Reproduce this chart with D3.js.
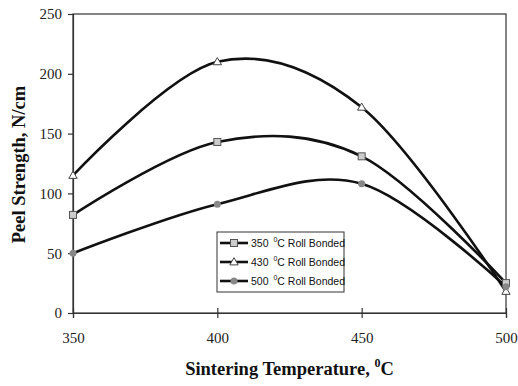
<!DOCTYPE html>
<html>
<head>
<meta charset="utf-8">
<script src="https://cdn.jsdelivr.net/npm/d3@7"></script>
<style>
body { margin: 0; background: #fff; }
svg { display: block; }
</style>
</head>
<body>
<script>
// chart data
const temps = [350, 400, 450, 500];
const bonded350 = [82, 143, 131, 25];
const bonded430 = [115, 210, 172, 18];
const bonded500 = [50, 91, 108, 22];
const seriesLabels = ['350', '430', '500'];
const xTicks = [350, 400, 450, 500];
const yTicks = [0, 50, 100, 150, 200, 250];

const width = 518, height = 386;
const margins = { top: 14, right: 12, bottom: 73, left: 73 };

const x = d3.scaleLinear().domain([350, 500]).range([margins.left, width - margins.right]);
const y = d3.scaleLinear().domain([0, 250]).range([height - margins.bottom, margins.top]);

const svg = d3.select('body').append('svg').attr('width', width).attr('height', height);

// frame
svg.append('rect')
    .attr('x', x(350)).attr('y', y(250))
    .attr('width', x(500) - x(350)).attr('height', y(0) - y(250))
    .attr('fill', 'none').attr('stroke', '#333').attr('stroke-width', 1.2);

const xAxis = svg.append('g')
    .attr('transform', `translate(0,${y(0)})`)
    .call(d3.axisBottom(x).tickValues(xTicks).tickSize(5).tickPadding(14));
xAxis.selectAll('.tick line').attr('y1', -5).attr('y2', 5);

const yAxis = svg.append('g')
    .attr('transform', `translate(${x(350)},0)`)
    .call(d3.axisLeft(y).tickValues(yTicks).tickSize(5).tickPadding(6));

[xAxis, yAxis].forEach((a) => {
    a.select('.domain').attr('stroke', '#333').attr('stroke-width', 1.2);
    a.selectAll('.tick line').attr('stroke', '#333').attr('stroke-width', 1.2);
    a.selectAll('.tick text')
        .attr('font-family', '"Liberation Serif", "Times New Roman", serif')
        .attr('font-size', 15).attr('fill', '#222');
});

// axis titles
const titleFont = '"Liberation Serif", "Times New Roman", serif';
const xt = svg.append('text')
    .attr('x', (x(350) + x(500)) / 2).attr('y', 375)
    .attr('text-anchor', 'middle')
    .attr('font-family', titleFont).attr('font-weight', 'bold').attr('font-size', 18.5)
    .attr('fill', '#111');
xt.append('tspan').text('Sintering Temperature, ');
xt.append('tspan').text('0').attr('font-size', 12).attr('dy', -8);
xt.append('tspan').text('C').attr('dy', 8);

svg.append('text')
    .attr('transform', `translate(25,${(y(0) + y(250)) / 2 + 1}) rotate(-90)`)
    .attr('text-anchor', 'middle')
    .attr('font-family', titleFont).attr('font-weight', 'bold').attr('font-size', 18.5)
    .attr('fill', '#111')
    .text('Peel Strength, N/cm');

// series
const series = [
    { label: seriesLabels[0], values: bonded350, marker: 'square' },
    { label: seriesLabels[1], values: bonded430, marker: 'triangle' },
    { label: seriesLabels[2], values: bonded500, marker: 'circle' }
];

const line = d3.line()
    .x((d, i) => x(temps[i]))
    .y((d) => y(d))
    .curve(d3.curveCardinal.tension(0));

function drawMarker(g, type, cx, cy) {
    if (type === 'square') {
        g.append('rect').attr('x', cx - 3.5).attr('y', cy - 3.5).attr('width', 7).attr('height', 7)
            .attr('fill', '#ccc').attr('stroke', '#555').attr('stroke-width', 1);
    } else if (type === 'triangle') {
        g.append('path')
            .attr('d', d3.symbol(d3.symbolTriangle, 30)())
            .attr('transform', `translate(${cx},${cy + 0.5})`)
            .attr('fill', '#fff').attr('stroke', '#444').attr('stroke-width', 1);
    } else {
        g.append('circle').attr('cx', cx).attr('cy', cy).attr('r', 3.5)
            .attr('fill', '#888').attr('stroke', 'none');
    }
}

series.forEach((s) => {
    svg.append('path')
        .datum(s.values)
        .attr('d', line)
        .attr('fill', 'none')
        .attr('stroke', '#111')
        .attr('stroke-width', 2.6);
});
series.forEach((s) => {
    const g = svg.append('g');
    s.values.forEach((v, i) => drawMarker(g, s.marker, x(temps[i]), y(v)));
});

// legend
const legend = svg.append('g').attr('transform', 'translate(217,232)');
legend.append('rect')
    .attr('width', 127).attr('height', 60)
    .attr('fill', '#fff').attr('stroke', '#333').attr('stroke-width', 1);

series.forEach((s, i) => {
    const ly = 11 + i * 19;
    const le = legend.append('g');
    le.append('line').attr('x1', 3).attr('x2', 31).attr('y1', ly).attr('y2', ly)
        .attr('stroke', '#111').attr('stroke-width', 2.6);
    drawMarker(le, s.marker, 17, ly);
    const t = le.append('text')
        .attr('x', 34).attr('y', ly + 4)
        .attr('font-family', '"Liberation Sans", Arial, sans-serif')
        .attr('font-size', 10.5).attr('fill', '#111');
    t.append('tspan').text(s.label + ' ');
    t.append('tspan').text('0').attr('font-size', 7).attr('dy', -5).attr('dx', 2);
    t.append('tspan').text('C Roll Bonded').attr('dy', 5);
});
</script>
</body>
</html>
